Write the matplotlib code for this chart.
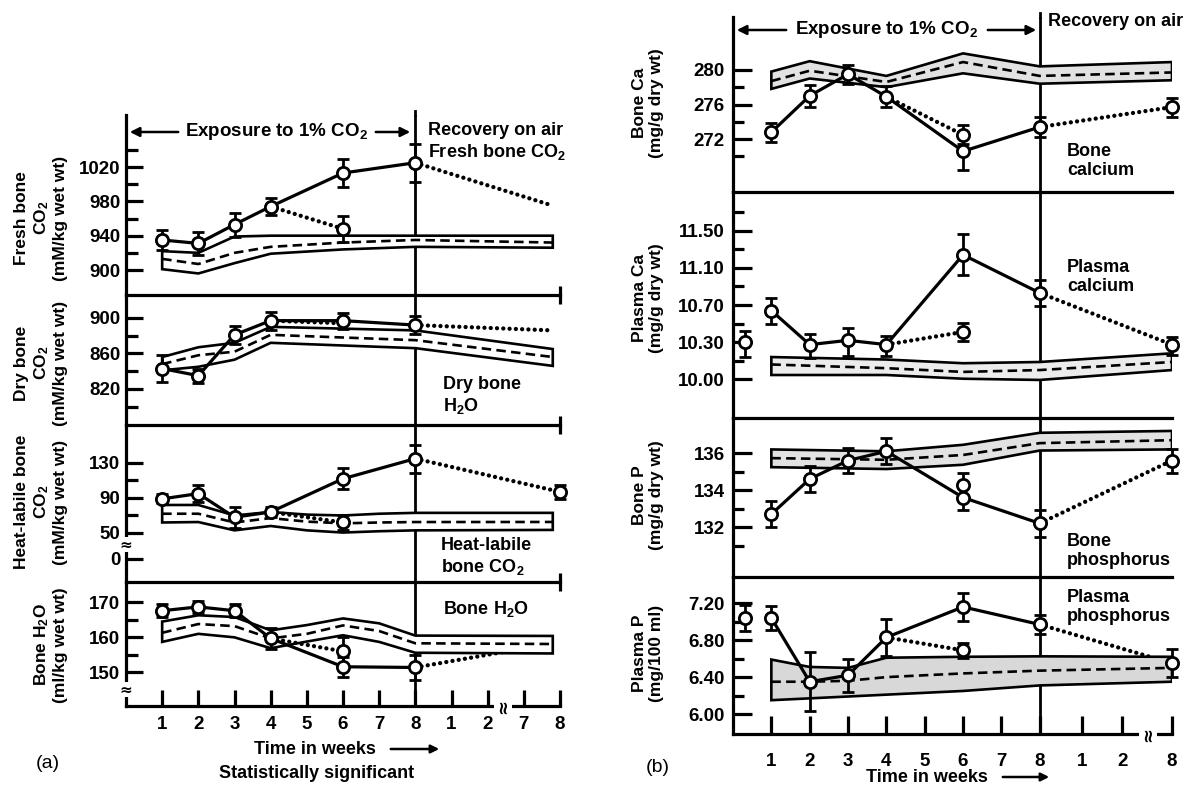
import numpy as np
import matplotlib
matplotlib.use("Agg")
import matplotlib.pyplot as plt
from matplotlib.patches import FancyArrowPatch

plt.rcParams['font.family'] = ['Liberation Sans', 'DejaVu Sans']
plt.rcParams['font.weight'] = 'bold'
plt.rcParams['mathtext.fontset'] = 'custom'
plt.rcParams['mathtext.rm'] = 'Liberation Sans:bold'
plt.rcParams['mathtext.bf'] = 'Liberation Sans:bold'
plt.rcParams['mathtext.it'] = 'Liberation Sans:bold'
plt.rcParams['mathtext.default'] = 'bf'

# ---------------------------------------------------------------- data
# time axis: exposure weeks 1-8, then recovery weeks 1, 2, 7, 8
exp_weeks = [1, 2, 3, 4, 6, 8]
a_tick_pos = [1, 2, 3, 4, 5, 6, 7, 8, 9, 10, 11, 12]
a_tick_lab = ['1', '2', '3', '4', '5', '6', '7', '8', '1', '2', '7', '8']
b_tick_pos = [1, 2, 3, 4, 5, 6, 7, 8, 9.1, 10.15, 11.45]
b_tick_lab = ['1', '2', '3', '4', '5', '6', '7', '8', '1', '2', '8']
a_end = 11.8          # last recovery reading / end of control band (a)
a_rec8 = 12           # recovery week 8 (a)
b_rec8 = 11.45        # recovery week 8 (b)
b_pre = 0.3           # pre-exposure reading (b)

# (a) Fresh bone CO2 (mM/kg wet wt)
fresh_co2 = [935, 931, 953, 974, 1013, 1025]
fresh_co2_err = [12, 13, 14, 10, 16, 22]
fresh_branch = [974, 948]
fresh_branch_err = 15
fresh_recovery = [1025, 975]
fresh_ctrl_x = [1, 2, 3, 4, 6, 8, a_end]
fresh_ctrl_hi = [922, 920, 939, 940, 940, 940, 940]
fresh_ctrl_mid = [913, 907, 920, 927, 932, 935, 932]
fresh_ctrl_lo = [901, 896, 908, 919, 924, 927, 926]

# (a) Dry bone CO2 (mM/kg wet wt)
dry_co2 = [843, 835, 881, 897, 897, 892]
dry_co2_err = [15, 8, 10, 10, 9, 10]
dry_branch = [897, 894]
dry_recovery = [892, 886]
dry_ctrl_x = [1, 2, 3, 4, 8, a_end]
dry_ctrl_hi = [856, 867, 872, 890, 886, 865]
dry_ctrl_mid = [848, 858, 862, 881, 875, 856]
dry_ctrl_lo = [841, 845, 853, 872, 866, 846]

# (a) Heat-labile bone CO2 (mM/kg wet wt)
heat_co2 = [89, 95, 68, 74, 112, 135]
heat_co2_err = [5, 10, 12, 6, 12, 16]
heat_branch = [74, 62]
heat_branch_err = 9
heat_recovery = [135, 97]
heat_recovery_err = 8
heat_ctrl_x = [1, 2, 3, 4, 5, 6, 7, 8, a_end]
heat_ctrl_hi = [82, 82, 70, 74, 71, 70, 72, 73, 73]
heat_ctrl_mid = [72, 72, 62, 67, 63, 61, 62, 62.5, 62.6]
heat_ctrl_lo = [62, 62.5, 53, 58, 53, 50.5, 52, 53, 53.5]

# (a) Bone H2O (ml/kg wet wt)
h2o = [167.6, 168.7, 167.6, 159.7, 151.6, 151.4]
h2o_err = [1.8, 1.8, 1.8, 3.0, 2.8, 3.5]
h2o_branch = [159.7, 156.0]
h2o_branch_err = 4.0
h2o_recovery = [151.4, 158.3]
h2o_ctrl_x = [1, 2, 3, 4, 5, 6, 7, 8, a_end]
h2o_ctrl_hi = [164.5, 166.3, 165.8, 162.0, 163.5, 165.4, 164.0, 160.5, 160.4]
h2o_ctrl_mid = [161.3, 163.8, 163.2, 159.7, 161.0, 163.4, 161.8, 158.3, 158.1]
h2o_ctrl_lo = [158.7, 161.0, 160.0, 156.9, 158.8, 160.6, 158.7, 155.6, 155.4]

# (b) Bone Ca (mg/g dry wt)
bone_ca = [272.8, 277.0, 279.5, 276.9, 270.6, 273.4]
bone_ca_err = [1.1, 1.3, 1.1, 1.2, 2.2, 1.1]
bone_ca_branch = [276.9, 272.5]
bone_ca_branch_err = 1.1
bone_ca_recovery = [273.4, 275.7]
bone_ca_recovery_err = 1.1
bone_ca_ctrl_x = [1, 2, 4, 6, 8, b_rec8]
bone_ca_ctrl_hi = [279.8, 281.0, 279.3, 281.9, 280.4, 280.9]
bone_ca_ctrl_mid = [278.7, 279.9, 278.6, 280.9, 279.3, 279.7]
bone_ca_ctrl_lo = [277.8, 279.0, 278.0, 279.6, 278.4, 278.8]

# (b) Plasma Ca
plasma_ca_pre = 10.30
plasma_ca_pre_err = 0.12
plasma_ca = [10.64, 10.28, 10.32, 10.28, 11.24, 10.83]
plasma_ca_err = [0.14, 0.11, 0.13, 0.09, 0.22, 0.14]
plasma_ca_branch = [10.28, 10.41]
plasma_ca_branch_err = 0.10
plasma_ca_recovery = [10.83, 10.28]
plasma_ca_recovery_err = 0.08
plasma_ca_ctrl_x = [1, 4, 6, 8, b_rec8]
plasma_ca_ctrl_hi = [10.18, 10.16, 10.13, 10.14, 10.21]
plasma_ca_ctrl_mid = [10.12, 10.09, 10.06, 10.075, 10.14]
plasma_ca_ctrl_lo = [10.035, 10.035, 10.005, 9.995, 10.075]

# (b) Bone P (mg/g dry wt)
bone_p = [132.7, 134.6, 135.6, 136.1, 133.6, 132.2]
bone_p_err = [0.7, 0.7, 0.7, 0.7, 0.65, 0.75]
bone_p_wk6_alt = 134.3
bone_p_wk6_alt_err = 0.6
bone_p_recovery = [132.2, 135.6]
bone_p_recovery_err = 0.65
bone_p_ctrl_x = [1, 4, 6, 8, b_rec8]
bone_p_ctrl_hi = [136.2, 136.1, 136.45, 137.1, 137.2]
bone_p_ctrl_mid = [135.73, 135.64, 135.9, 136.54, 136.7]
bone_p_ctrl_lo = [135.24, 135.14, 135.37, 136.14, 136.2]

# (b) Plasma P (mg/100 ml)
plasma_p_pre = 7.04
plasma_p_pre_err = 0.14
plasma_p = [7.04, 6.35, 6.42, 6.83, 7.16, 6.97]
plasma_p_err = [0.13, 0.32, 0.18, 0.20, 0.15, 0.10]
plasma_p_branch = [6.83, 6.69]
plasma_p_branch_err = 0.08
plasma_p_recovery = [6.97, 6.55]
plasma_p_recovery_err = 0.15
plasma_p_ctrl_x = [1, 2, 3, 4, 6, 8, b_rec8]
plasma_p_ctrl_hi = [6.59, 6.51, 6.50, 6.61, 6.62, 6.625, 6.62]
plasma_p_ctrl_mid = [6.35, 6.35, 6.36, 6.40, 6.44, 6.47, 6.50]
plasma_p_ctrl_lo = [6.15, 6.17, 6.19, 6.21, 6.25, 6.31, 6.35]

# ---------------------------------------------------------------- style
W, H = 1199, 788
fig = plt.figure(figsize=(W / 100, H / 100), dpi=100)
fig.patch.set_facecolor('white')

MS, MEW, LW, ELW, CAP = 8.8, 2.0, 2.3, 2.0, 4.2
DOT_LW = 3.1
DOT = (0, (0.01, 1.45))
BLW = 1.9


def rect(xl, xr, yt, yb):
    return [xl / W, 1 - yb / H, (xr - xl) / W, (yb - yt) / H]


def fx(x):
    return x / W


def fy(y):
    return 1 - y / H


def frame(ax, xmax, ylim, major, labels, minor, top, pad, mlen, nlen):
    ax.set_xlim(0, xmax)
    ax.set_ylim(*ylim)
    ax.patch.set_visible(False)
    ax.spines['right'].set_visible(False)
    ax.spines['bottom'].set_visible(False)
    ax.spines['top'].set_visible(top)
    for s in ('left', 'top', 'bottom'):
        ax.spines[s].set_linewidth(2.3)
    ax.set_yticks(major, labels=labels)
    ax.set_yticks(minor, minor=True)
    ax.tick_params(axis='y', which='major', direction='in', length=mlen,
                   width=2.3, labelsize=13.5, pad=pad)
    ax.tick_params(axis='y', which='minor', direction='in', length=nlen,
                   width=2.3)
    ax.set_xticks([])
    ax.axvline(8, color='k', lw=2.0, zorder=1)


def time_axis(ax, pos, labels, length, pad):
    ax.spines['bottom'].set_visible(True)
    ax.set_xticks(pos, labels=labels)
    ax.tick_params(axis='x', direction='in', length=length, width=2.3,
                   labelsize=13.5, pad=pad)


def unclip(container):
    for child in container.get_children():
        child.set_clip_on(False)


def exposed(ax, x, y, err):
    ax.plot(x, y, color='k', lw=LW, zorder=2.5)
    eb = ax.errorbar(x, y, yerr=err, fmt='o', ms=MS, mfc='white', mec='k',
                     mew=MEW, ecolor='k', elinewidth=ELW, capsize=CAP,
                     capthick=ELW, zorder=3)
    unclip(eb)


def point(ax, x, y, err):
    eb = ax.errorbar([x], [y], yerr=[err], fmt='o', ms=MS, mfc='white',
                     mec='k', mew=MEW, ecolor='k', elinewidth=ELW,
                     capsize=CAP, capthick=ELW, zorder=3)
    unclip(eb)


def dotted(ax, x, y, z=2.5):
    ax.plot(x, y, color='k', lw=DOT_LW, ls=DOT, dash_capstyle='round',
            zorder=z)


def control_band(ax, x, lo, mid, hi, face):
    ax.fill(np.concatenate([x, x[::-1]]), np.concatenate([hi, lo[::-1]]),
            facecolor=face, edgecolor='k', lw=BLW, zorder=2, joinstyle='miter')
    ax.plot(x, mid, color='k', lw=BLW, dashes=(3.6, 2.0), zorder=2.1)


def break_mark(ax, x, y, rot, transform=None, size=11):
    ax.text(x, y, '\u2248', rotation=rot, ha='center', va='center',
            fontsize=size, fontweight='bold', zorder=5, clip_on=False,
            transform=transform if transform is not None else ax.transData,
            bbox=dict(facecolor='white', edgecolor='none', pad=0.0),
            family='DejaVu Sans')


def arrow(x0, y0, x1, y1, ms=14):
    fig.add_artist(FancyArrowPatch((fx(x0), fy(y0)), (fx(x1), fy(y1)),
                                   transform=fig.transFigure, arrowstyle='-|>',
                                   mutation_scale=ms, lw=1.8, color='k'))


# piecewise scales for the broken / unevenly labelled axes
def heat_fwd(v):
    v = np.asarray(v, float)
    return np.where(v >= 50, v, 50 - (50 - v) * 0.594)


def heat_inv(u):
    u = np.asarray(u, float)
    return np.where(u >= 50, u, 50 - (50 - u) / 0.594)


def pca_fwd(v):
    v = np.asarray(v, float)
    return np.where(v >= 10.3, 1 + (v - 10.3) / 0.4, (v - 10.0) / 0.3)


def pca_inv(u):
    u = np.asarray(u, float)
    return np.where(u >= 1, 10.3 + (u - 1) * 0.4, 10.0 + u * 0.3)


# ---------------------------------------------------------------- panel (a)
axA1 = fig.add_axes(rect(126, 560, 115, 295))
axA2 = fig.add_axes(rect(126, 560, 295, 425))
axA3 = fig.add_axes(rect(126, 560, 425, 582))
axA4 = fig.add_axes(rect(126, 560, 582, 706))

frame(axA1, 12, (870.9, 1080.6), [900, 940, 980, 1020],
      ['900', '940', '980', '1020'], [920, 960, 1000, 1040], False, 4, 12, 8.5)
frame(axA2, 12, (779.4, 925.9), [820, 860, 900], ['820', '860', '900'],
      [800, 840, 880], True, 4, 12, 8.5)
axA3.set_yscale('function', functions=(heat_fwd, heat_inv))
frame(axA3, 12, (-44.3, 173.4), [0, 50, 90, 130], ['0', '50', '90', '130'],
      [70, 110], True, 4, 12, 8.5)
frame(axA4, 12, (140.4, 175.8), [150, 160, 170], ['150', '160', '170'],
      [155, 165], True, 4, 12, 8.5)
time_axis(axA4, a_tick_pos, a_tick_lab, 11.5, 7.5)
axA1.axvline(8, ymin=1, ymax=1.02, color='k', lw=2.0, clip_on=False)

control_band(axA1, fresh_ctrl_x, fresh_ctrl_lo, fresh_ctrl_mid, fresh_ctrl_hi, 'white')
exposed(axA1, exp_weeks, fresh_co2, fresh_co2_err)
dotted(axA1, [4, 6], fresh_branch)
point(axA1, 6, fresh_branch[1], fresh_branch_err)
dotted(axA1, [8, a_end], fresh_recovery)

control_band(axA2, dry_ctrl_x, dry_ctrl_lo, dry_ctrl_mid, dry_ctrl_hi, 'white')
exposed(axA2, exp_weeks, dry_co2, dry_co2_err)
dotted(axA2, [4, 6], dry_branch)
dotted(axA2, [8, a_end], dry_recovery)

control_band(axA3, heat_ctrl_x, heat_ctrl_lo, heat_ctrl_mid, heat_ctrl_hi, 'white')
exposed(axA3, exp_weeks, heat_co2, heat_co2_err)
dotted(axA3, [4, 6], heat_branch)
point(axA3, 6, heat_branch[1], heat_branch_err)
dotted(axA3, [8, a_rec8], heat_recovery)
point(axA3, a_rec8, heat_recovery[1], heat_recovery_err)

control_band(axA4, h2o_ctrl_x, h2o_ctrl_lo, h2o_ctrl_mid, h2o_ctrl_hi, 'white')
exposed(axA4, exp_weeks, h2o, h2o_err)
dotted(axA4, [4, 6], h2o_branch)
point(axA4, 6, h2o_branch[1], h2o_branch_err)
dotted(axA4, [8, a_end], h2o_recovery, z=1.5)

for ax in (axA2, axA3, axA4):
    ax.plot([12], [1], marker='|', ms=13, mew=2.3, color='k',
            transform=ax.get_xaxis_transform(), clip_on=False, zorder=5)

break_mark(axA3, 0, 27, 0)
break_mark(axA4, 0, 145, 0)
break_mark(axA4, 10.42, 0, 90, axA4.get_xaxis_transform(), size=13)

# ---------------------------------------------------------------- panel (b)
axB1 = fig.add_axes(rect(733, 1172, 17, 192))
axB2 = fig.add_axes(rect(733, 1172, 192, 418))
axB3 = fig.add_axes(rect(733, 1172, 418, 577))
axB4 = fig.add_axes(rect(733, 1172, 577, 734))

frame(axB1, b_rec8, (265.9, 286.1), [272, 276, 280], ['272', '276', '280'],
      [270, 274, 278], False, 6, 13.5, 7.7)
axB2.set_yscale('function', functions=(pca_fwd, pca_inv))
frame(axB2, b_rec8, (9.688, 11.916), [10.0, 10.3, 10.7, 11.1, 11.5],
      ['10.00', '10.30', '10.70', '11.10', '11.50'],
      [10.15, 10.5, 10.9, 11.3, 11.7], True, 6, 13.5, 7.7)
frame(axB3, b_rec8, (129.3, 137.9), [132, 134, 136], ['132', '134', '136'],
      [131, 133, 135], True, 6, 13.5, 7.7)
frame(axB4, b_rec8, (5.784, 7.484), [6.0, 6.4, 6.8, 7.2],
      ['6.00', '6.40', '6.80', '7.20'], [6.2, 6.6, 7.0], True, 6, 13.5, 7.7)
time_axis(axB4, b_tick_pos, b_tick_lab, 13, 14)
axB1.axvline(8, ymin=1, ymax=1.025, color='k', lw=2.0, clip_on=False)

control_band(axB1, bone_ca_ctrl_x, bone_ca_ctrl_lo, bone_ca_ctrl_mid,
             bone_ca_ctrl_hi, '#e2e2e2')
exposed(axB1, exp_weeks, bone_ca, bone_ca_err)
dotted(axB1, [4, 6], bone_ca_branch)
point(axB1, 6, bone_ca_branch[1], bone_ca_branch_err)
dotted(axB1, [8, b_rec8], bone_ca_recovery, z=1.5)
point(axB1, b_rec8, bone_ca_recovery[1], bone_ca_recovery_err)

control_band(axB2, plasma_ca_ctrl_x, plasma_ca_ctrl_lo, plasma_ca_ctrl_mid,
             plasma_ca_ctrl_hi, '#ececec')
point(axB2, b_pre, plasma_ca_pre, plasma_ca_pre_err)
exposed(axB2, exp_weeks, plasma_ca, plasma_ca_err)
dotted(axB2, [4, 6], plasma_ca_branch)
point(axB2, 6, plasma_ca_branch[1], plasma_ca_branch_err)
dotted(axB2, [8, b_rec8], plasma_ca_recovery, z=1.5)
point(axB2, b_rec8, plasma_ca_recovery[1], plasma_ca_recovery_err)

control_band(axB3, bone_p_ctrl_x, bone_p_ctrl_lo, bone_p_ctrl_mid,
             bone_p_ctrl_hi, '#e2e2e2')
exposed(axB3, exp_weeks, bone_p, bone_p_err)
point(axB3, 6, bone_p_wk6_alt, bone_p_wk6_alt_err)
dotted(axB3, [8, b_rec8], bone_p_recovery, z=1.5)
point(axB3, b_rec8, bone_p_recovery[1], bone_p_recovery_err)

control_band(axB4, plasma_p_ctrl_x, plasma_p_ctrl_lo, plasma_p_ctrl_mid,
             plasma_p_ctrl_hi, '#d8d8d8')
point(axB4, b_pre, plasma_p_pre, plasma_p_pre_err)
exposed(axB4, exp_weeks, plasma_p, plasma_p_err)
dotted(axB4, [4, 6], plasma_p_branch)
point(axB4, 6, plasma_p_branch[1], plasma_p_branch_err)
dotted(axB4, [8, b_rec8], plasma_p_recovery, z=1.5)
point(axB4, b_rec8, plasma_p_recovery[1], plasma_p_recovery_err)

break_mark(axB4, 10.82, 0, 90, axB4.get_xaxis_transform(), size=13)

# ---------------------------------------------------------------- text
YL = dict(rotation=90, ha='center', va='center', multialignment='center',
          fontsize=12.5, linespacing=1.2)
fig.text(fx(41), fy(218), 'Fresh bone\nCO$_2$\n(mM/kg wet wt)', **YL)
fig.text(fx(41), fy(363), 'Dry bone\nCO$_2$\n(mM/kg wet wt)', **YL)
fig.text(fx(41), fy(502), 'Heat-labile bone\nCO$_2$\n(mM/kg wet wt)', **YL)
fig.text(fx(50), fy(645), 'Bone H$_2$O\n(ml/kg wet wt)', **YL)
fig.text(fx(648), fy(103), 'Bone Ca\n(mg/g dry wt)', **YL)
fig.text(fx(648), fy(298), 'Plasma Ca\n(mg/g dry wt)', **YL)
fig.text(fx(648), fy(495), 'Bone P\n(mg/g dry wt)', **YL)
fig.text(fx(648), fy(653), 'Plasma P\n(mg/100 ml)', **YL)

IN = dict(ha='left', va='center', fontsize=13, linespacing=1.15)
fig.text(fx(443), fy(396), 'Dry bone\nH$_2$O', **IN)
fig.text(fx(441), fy(557), 'Heat-labile\nbone CO$_2$', **IN)
fig.text(fx(443), fy(609), 'Bone H$_2$O', **IN)
fig.text(fx(428), fy(142), 'Recovery on air\nFresh bone CO$_2$', **IN)
fig.text(fx(1048), fy(22), 'Recovery on air', **IN)
fig.text(fx(1067), fy(161), 'Bone\ncalcium', **IN)
fig.text(fx(1067), fy(277), 'Plasma\ncalcium', **IN)
fig.text(fx(1067), fy(551), 'Bone\nphosphorus', **IN)
fig.text(fx(1067), fy(607), 'Plasma\nphosphorus', **IN)

fig.text(fx(277), fy(132), 'Exposure to 1% CO$_2$', ha='center', va='center',
         fontsize=13.5)
arrow(181, 132, 127, 132)
arrow(373, 132, 413, 132)
fig.text(fx(887), fy(30), 'Exposure to 1% CO$_2$', ha='center', va='center',
         fontsize=13.5)
arrow(789, 30, 734, 30)
arrow(985, 30, 1039, 30)

fig.text(fx(315), fy(749), 'Time in weeks', ha='center', va='center', fontsize=13)
arrow(388, 749, 442, 749, ms=12)
fig.text(fx(317), fy(773), 'Statistically significant', ha='center',
         va='center', fontsize=13)
fig.text(fx(927), fy(777), 'Time in weeks', ha='center', va='center', fontsize=13)
arrow(1000, 777, 1052, 777, ms=12)

fig.text(fx(48), fy(764), '(a)', ha='center', va='center', fontsize=14,
         fontweight='normal')
fig.text(fx(658), fy(767), '(b)', ha='center', va='center', fontsize=14,
         fontweight='normal')

fig.savefig('out.png', dpi=100, facecolor='white')
